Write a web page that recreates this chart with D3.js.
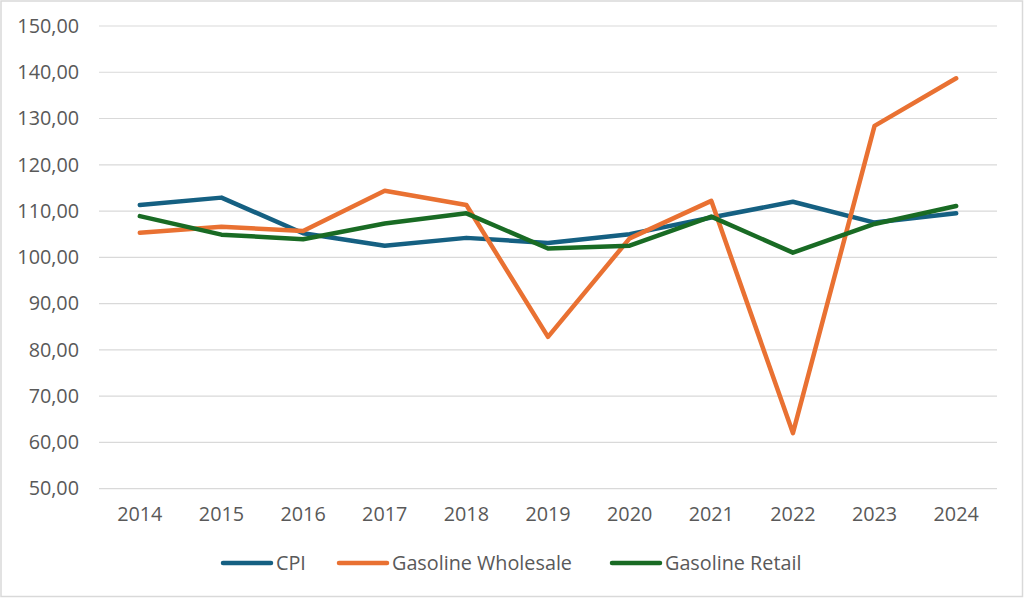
<!DOCTYPE html>
<html lang="en">
<head>
    <meta charset="utf-8">
    <title>CPI vs Gasoline</title>
    <script src="https://d3js.org/d3.v7.min.js"></script>
    <style>
        body { margin: 0; background: #fff; }
        text { font-family: "Open Sans", "Noto Sans", sans-serif; fill: #595959; }
    </style>
</head>
<body>
<div id="chart"></div>
<script>
    // data
    const years = ["2014", "2015", "2016", "2017", "2018", "2019", "2020", "2021", "2022", "2023", "2024"];
    const cpi = [111.3, 112.9, 105.2, 102.5, 104.2, 103.1, 105.0, 108.6, 112.0, 107.5, 109.5];
    const wholesale = [105.3, 106.6, 105.7, 114.4, 111.3, 82.8, 104.1, 112.2, 62.0, 128.4, 138.7];
    const retail = [108.9, 104.9, 103.9, 107.3, 109.5, 101.9, 102.5, 108.8, 101.0, 107.2, 111.1];
    const yTicks = [50, 60, 70, 80, 90, 100, 110, 120, 130, 140, 150];

    const series = [
        {name: "CPI", values: cpi, color: "#156082"},
        {name: "Gasoline Wholesale", values: wholesale, color: "#E97132"},
        {name: "Gasoline Retail", values: retail, color: "#196B24"}
    ];

    const width = 1024, height = 598;
    const margin = {top: 26, right: 27, bottom: 110, left: 99};
    const fontSize = 19.8;

    const svg = d3.select("#chart").append("svg")
        .attr("width", width).attr("height", height);

    // chart border
    svg.append("rect")
        .attr("x", 1).attr("y", 1)
        .attr("width", width - 2.5).attr("height", height - 2.5)
        .attr("fill", "#fff").attr("stroke", "#d9d9d9").attr("stroke-width", 1.5);

    const x = d3.scaleBand()
        .domain(years)
        .range([margin.left, width - margin.right]);

    const y = d3.scaleLinear()
        .domain([50, 150])
        .range([height - margin.bottom + 0.6, margin.top]);

    // gridlines
    svg.append("g")
        .selectAll("line")
        .data(yTicks)
        .join("line")
        .attr("x1", margin.left).attr("x2", width - margin.right)
        .attr("y1", d => y(d)).attr("y2", d => y(d))
        .attr("stroke", "#d9d9d9").attr("stroke-width", 1.2);

    // y axis labels
    const yAxis = d3.axisLeft(y)
        .tickValues(yTicks)
        .tickSize(0)
        .tickPadding(20)
        .tickFormat(d => d3.format(".2f")(d).replace(".", ","));
    svg.append("g")
        .attr("transform", `translate(${margin.left},0)`)
        .call(yAxis)
        .call(g => g.select(".domain").remove())
        .call(g => g.selectAll("text").attr("font-size", fontSize).attr("fill", "#595959")
            .style("font-family", "'Open Sans', sans-serif"));

    // x axis labels
    const xAxis = d3.axisBottom(x).tickSize(0).tickPadding(18);
    svg.append("g")
        .attr("transform", `translate(0,${y(50)})`)
        .call(xAxis)
        .call(g => g.select(".domain").remove())
        .call(g => g.selectAll("text").attr("font-size", fontSize).attr("fill", "#595959")
            .style("font-family", "'Open Sans', sans-serif"));

    const line = d3.line()
        .x((d, i) => x(years[i]) + x.bandwidth() / 2)
        .y(d => y(d));

    svg.append("g")
        .attr("fill", "none")
        .attr("stroke-width", 4.5)
        .attr("stroke-linejoin", "round")
        .attr("stroke-linecap", "round")
        .selectAll("path")
        .data(series)
        .join("path")
        .attr("stroke", d => d.color)
        .attr("d", d => line(d.values));

    // legend
    const legendX = [223, 339, 612];
    const legend = svg.append("g")
        .selectAll("g")
        .data(series)
        .join("g")
        .attr("transform", (d, i) => `translate(${legendX[i]},563)`);
    legend.append("line")
        .attr("x1", 0).attr("x2", 48)
        .attr("stroke", d => d.color)
        .attr("stroke-width", 4.5)
        .attr("stroke-linecap", "round");
    legend.append("text")
        .attr("x", 53).attr("dy", "0.35em")
        .attr("font-size", fontSize)
        .text(d => d.name);
</script>
</body>
</html>
